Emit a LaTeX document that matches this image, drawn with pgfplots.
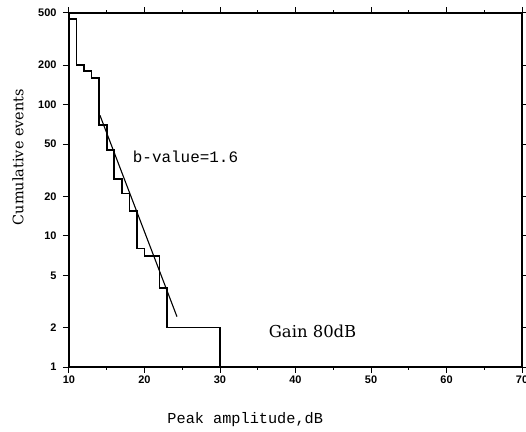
\documentclass[border=0pt]{standalone}
\usepackage{fontspec}
\setmainfont{Liberation Sans}
\newfontfamily\labelmono{Liberation Mono}
\newfontfamily\labelserif{DejaVu Serif}
\usepackage{pgfplots}
\pgfplotsset{compat=1.18}

\begin{document}
\begin{tikzpicture}
  \useasboundingbox (-69bp,-65bp) rectangle (457bp,367bp);
  \begin{axis}[
      at={(0,0)}, anchor=south west,
      width=453bp, height=354bp, scale only axis,
      ymode=log,
      xmin=10, xmax=70, ymin=1, ymax=500,
      xtick={10,20,...,70},
      minor x tick num=1,
      ytick={1,2,5,10,20,50,100,200,500},
      yticklabels={1,2,5,10,20,50,100,200,500},
      tick align=outside,
      major tick length=6bp,
      minor tick length=3bp,
      axis line style={line width=1.6bp},
      every tick/.style={black, line width=1bp},
      tick label style={font=\bfseries\fontsize{11}{12}\selectfont},
      /pgf/number format/assume math mode=true,
      xticklabel style={yshift=1bp},
      yticklabel style={xshift=-3bp},
      clip=false,
    ]
    % cumulative event count (staircase)
    \addplot[const plot mark left, black, line width=1.6bp] coordinates {
        (10,450) (11,200) (12,180) (13,160) (14,70) (15,45) (16,27)
        (17,21) (18,15.5) (19,8) (20,7) (22,4) (23,2) (30,2) (30,1)
      };
    % fitted line
    \addplot[black, line width=1.1bp] coordinates {
        (14.1,83) (24.3,2.42)
      };
    \node[anchor=west, font=\labelmono\fontsize{16}{16}\selectfont]
      at (axis cs:18.0,40) {b-value=1.6};
    \node[anchor=west, font=\labelserif\fontsize{16.5}{17}\selectfont]
      at (axis cs:36.0,1.88) {Gain 80dB};
    \node[font=\labelmono\fontsize{15.3}{16}\selectfont]
      at ([yshift=-53bp]axis description cs:0.389,0) {Peak amplitude,dB};
    \node[rotate=90, font=\labelserif\fontsize{14.5}{15}\selectfont]
      at ([xshift=-51bp]axis description cs:0,0.593) {Cumulative events};
  \end{axis}
\end{tikzpicture}
\end{document}
